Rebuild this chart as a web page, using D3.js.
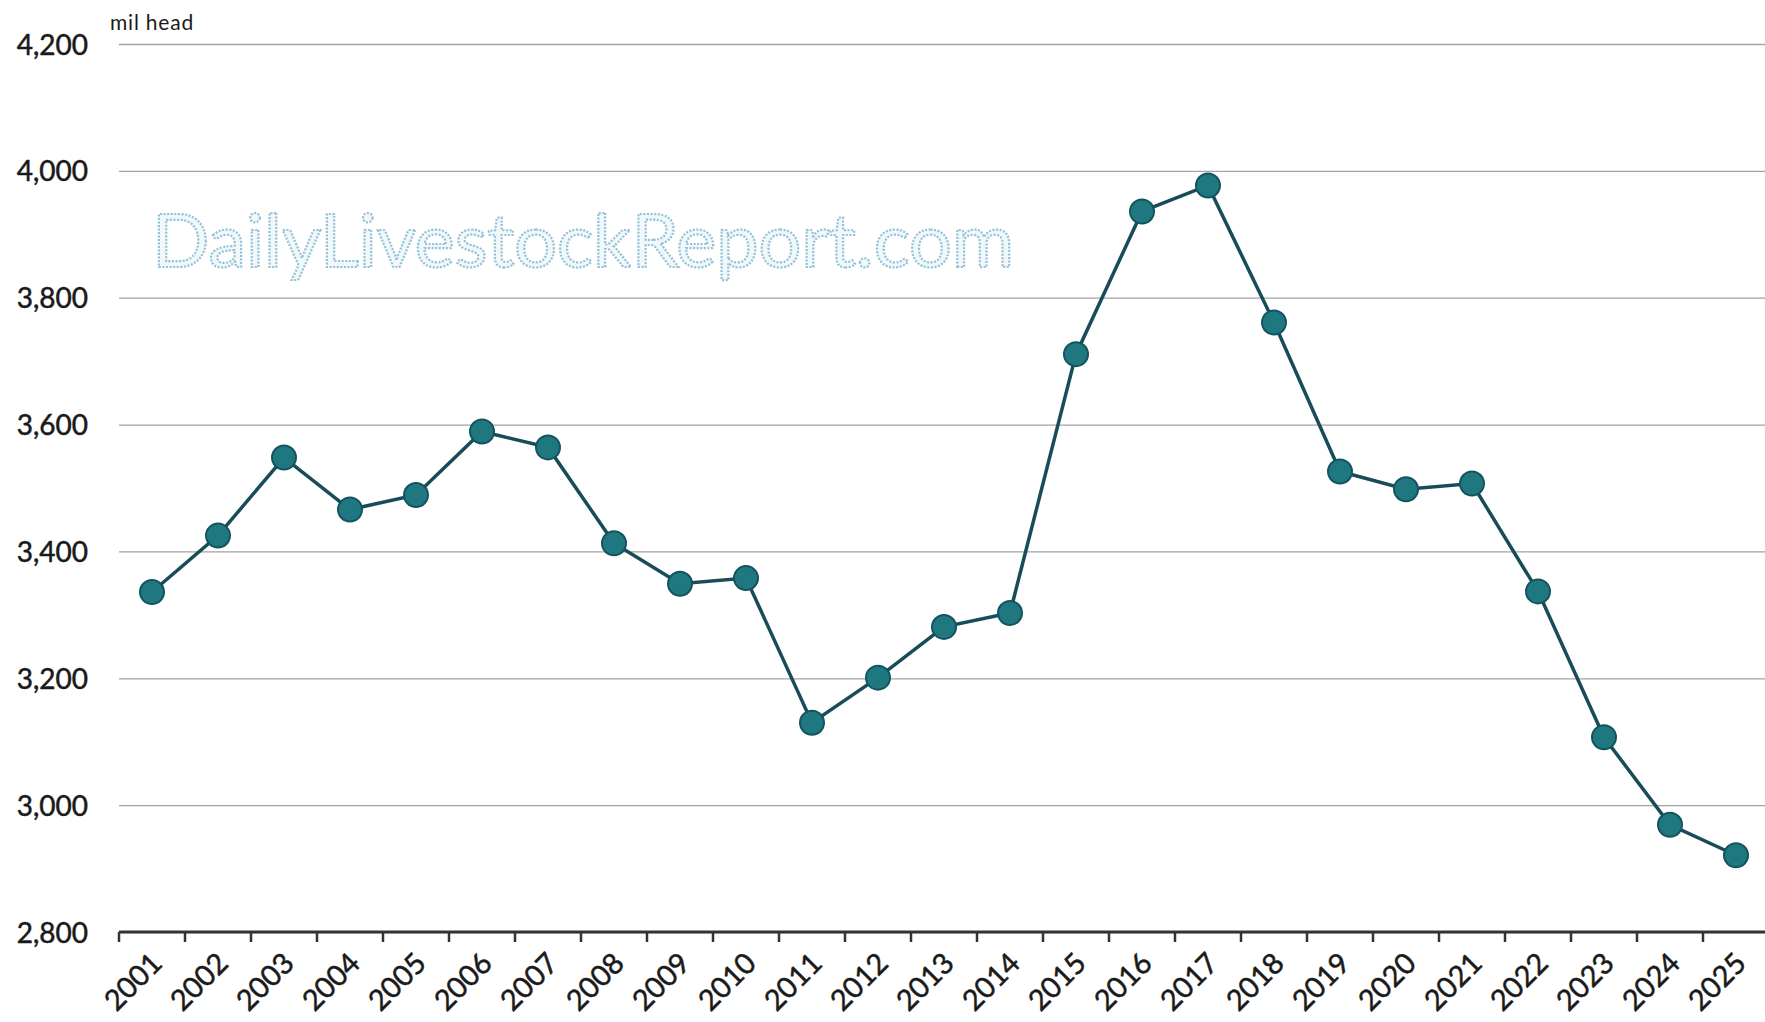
<!DOCTYPE html>
<html>
  <head>
    <meta charset="utf-8">
    <title>mil head</title>
    <script src="https://cdnjs.cloudflare.com/ajax/libs/d3/7.8.5/d3.min.js"></script>
    <style type="text/css">
      body {
        margin: 0;
        background: #fff;
      }

      .chart text {
        font-family: Lato, 'Open Sans', sans-serif;
        fill: #1a1a1a;
      }
    </style>
  </head>
  <body>
    <script>
      var years = ['2001', '2002', '2003', '2004', '2005', '2006', '2007', '2008', '2009', '2010',
                   '2011', '2012', '2013', '2014', '2015', '2016', '2017', '2018', '2019', '2020',
                   '2021', '2022', '2023', '2024', '2025'];

      var head = [3336, 3425, 3548, 3466, 3489, 3589, 3564, 3413, 3349, 3358,
                  3130, 3201, 3281, 3303, 3711, 3936, 3977, 3761, 3526, 3498,
                  3507, 3337, 3107, 2969, 2921];

      var yTicks = [2800, 3000, 3200, 3400, 3600, 3800, 4000, 4200];

      var w = 1765;
      var h = 1022;
      var left = 119;
      var base = 932;
      var step = 66;

      var svg = d3.select('body')
                  .append('svg')
                    .attr('class', 'chart')
                    .attr('width', w)
                    .attr('height', h);

      var x = d3.scaleBand()
                .domain(years)
                .range([left, left + step * years.length]);

      var y = d3.scaleLinear()
                .domain([2800, 4200])
                .range([base, 44]);

      // gridlines + value labels
      var yAxis = svg.append('g')
                     .attr('transform', 'translate(' + left + ',0)')
                     .call(d3.axisLeft(y)
                       .tickValues(yTicks)
                       .tickFormat(d3.format(','))
                       .tickSize(-(w - left))
                       .tickPadding(31));

      yAxis.select('.domain').remove();
      yAxis.selectAll('line')
           .attr('stroke', '#a3a3a3')
           .attr('stroke-width', 1.3);
      yAxis.selectAll('text')
           .attr('font-size', 28)
           .attr('dy', '0.36em')
           .attr('stroke', '#1a1a1a')
           .attr('stroke-width', 0.5);

      svg.append('text')
         .attr('x', 110)
         .attr('y', 30)
         .attr('font-size', 21)
         .attr('letter-spacing', 0.8)
         .text('mil head');

      // watermark
      svg.append('text')
         .attr('x', 152)
         .attr('y', 267)
         .attr('font-size', 74)
         .attr('textLength', 862)
         .attr('lengthAdjust', 'spacingAndGlyphs')
         .style('fill', '#f1f8fb')
         .attr('stroke', '#95c3d6')
         .attr('stroke-width', 2.2)
         .attr('stroke-dasharray', '2,1.5')
         .text('DailyLivestockReport.com');

      // category axis
      var xAxis = svg.append('g')
                     .attr('transform', 'translate(0,' + base + ')')
                     .call(d3.axisBottom(x).tickSize(0).tickPadding(0));

      xAxis.select('.domain').remove();
      xAxis.selectAll('text')
           .attr('font-size', 29)
           .attr('text-anchor', 'end')
           .attr('dy', 0)
           .attr('y', 0)
           .attr('stroke', '#1a1a1a')
           .attr('stroke-width', 0.5)
           .attr('transform', 'translate(12,33) rotate(-45)');

      svg.append('line')
         .attr('x1', left)
         .attr('x2', w)
         .attr('y1', base)
         .attr('y2', base)
         .attr('stroke', '#333')
         .attr('stroke-width', 3);

      svg.selectAll('.cat-tick')
         .data(years)
         .enter()
         .append('line')
           .attr('class', 'cat-tick')
           .attr('x1', function(d) { return x(d) })
           .attr('x2', function(d) { return x(d) })
           .attr('y1', base)
           .attr('y2', base + 10)
           .attr('stroke', '#333')
           .attr('stroke-width', 2.5);

      // series
      var line = d3.line()
                   .x(function(d, i) { return x(years[i]) + x.bandwidth() / 2 })
                   .y(function(d) { return y(d) });

      svg.append('path')
         .datum(head)
         .attr('d', line)
         .attr('fill', 'none')
         .attr('stroke', '#184c59')
         .attr('stroke-width', 3.5);

      svg.selectAll('.dot')
         .data(head)
         .enter()
         .append('circle')
           .attr('class', 'dot')
           .attr('cx', function(d, i) { return x(years[i]) + x.bandwidth() / 2 })
           .attr('cy', function(d) { return y(d) })
           .attr('r', 12)
           .attr('fill', '#1f7880')
           .attr('stroke', '#145360')
           .attr('stroke-width', 2);
    </script>
  </body>
</html>
